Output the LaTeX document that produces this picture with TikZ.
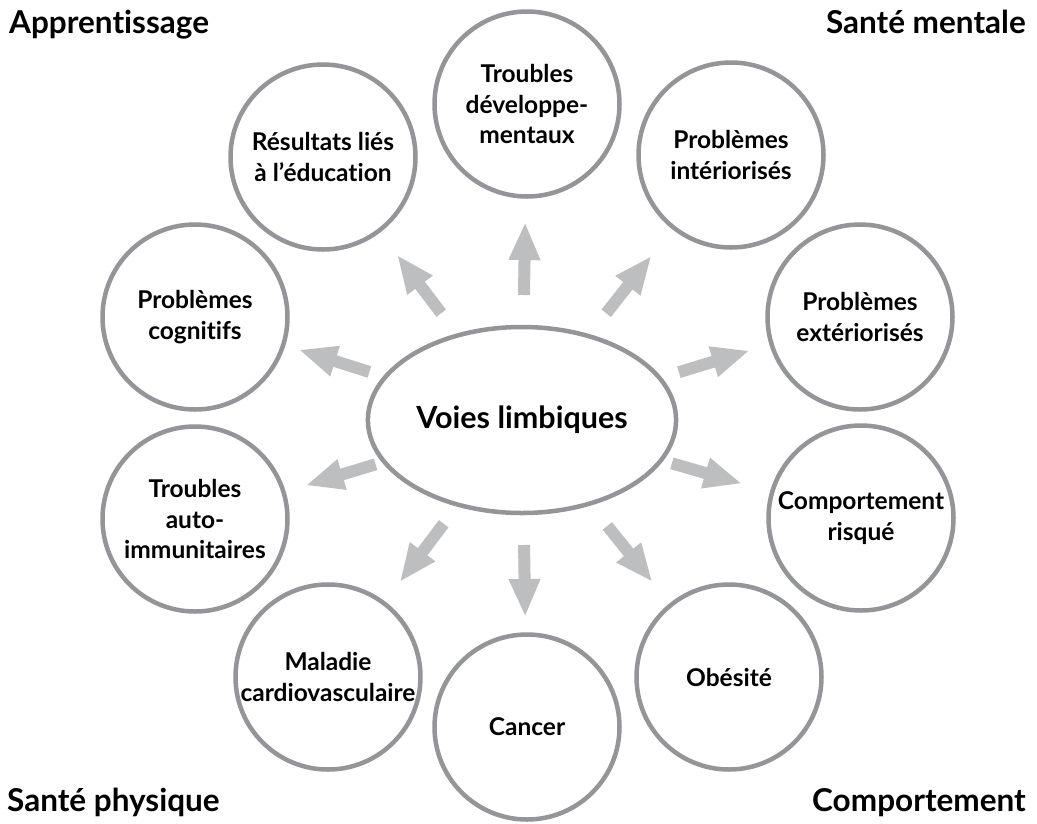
\documentclass[tikz,border=0pt]{standalone}
\usepackage{fontspec}
\setmainfont{Lato}[Ligatures=NoCommon]
\usetikzlibrary{arrows.meta,calc,shapes.geometric}
\definecolor{ringgray}{HTML}{939598}
\definecolor{arrowgray}{HTML}{BCBEC0}

\begin{document}
\begin{tikzpicture}[x=1pt,y=-1pt,
  topic/.style={circle, draw=ringgray, line width=4.5pt, minimum size=185pt,
    inner sep=0pt, align=center, fill=white,
    font=\fontsize{24.5}{30.5}\selectfont\bfseries},
  hub/.style={ellipse, draw=ringgray, line width=4.5pt, minimum width=287pt,
    minimum height=186pt, font=\fontsize{30.5}{36}\selectfont\bfseries},
  area/.style={inner sep=0pt, font=\fontsize{31.5}{36}\selectfont\bfseries},
  flow/.style={draw=arrowgray, line width=12pt,
    -{Triangle[length=38pt,width=29pt]}}
]
\useasboundingbox[fill=white] (0,0) rectangle (1037,823);

% corner headings
\node[area, anchor=base west] (learn)  at (9,33)     {Apprentissage};
\node[area, anchor=base east] (mental) at (1026,33)  {Santé mentale};
\node[area, anchor=base west] (phys)   at (7,811)    {Santé physique};
\node[area, anchor=base east] (behav)  at (1026,811) {Comportement};

% central hub
\node[hub] (hub) at (522,420) {Voies limbiques};

% outcome circles
\node[topic] (dev)  at (527,104) {Troubles\\développe-\\mentaux};
\node[topic] (int)  at (731,155) {Problèmes\\intériorisés};
\node[topic] (ext)  at (860,317) {Problèmes\\extériorisés};
\node[topic] (risk) at (861,518) {Comportement\\risqué};
\node[topic] (obe)  at (729,677) {Obésité};
\node[topic] (can)  at (527,727) {Cancer};
\node[topic] (card) at (328,677) {Maladie\\cardiovasculaire};
\node[topic] (auto) at (195,519) {Troubles\\auto-\\immunitaires};
\node[topic] (cogn) at (195,317) {Problèmes\\cognitifs};
\node[topic] (edu)  at (323,157) {Résultats liés\\à l’éducation};

% arrows from the hub towards each circle (tail / tip distance from hub centre)
\foreach \t/\a/\b in {dev/125/198, int/136/209, ext/164/238, risk/156/229,
                      obe/136/208, can/125/197, card/130/203, auto/153/226,
                      cogn/160/234, edu/134/207}
  \draw[flow] ($(hub.center)!\a pt!(\t.center)$) -- ($(hub.center)!\b pt!(\t.center)$);
\end{tikzpicture}
\end{document}
